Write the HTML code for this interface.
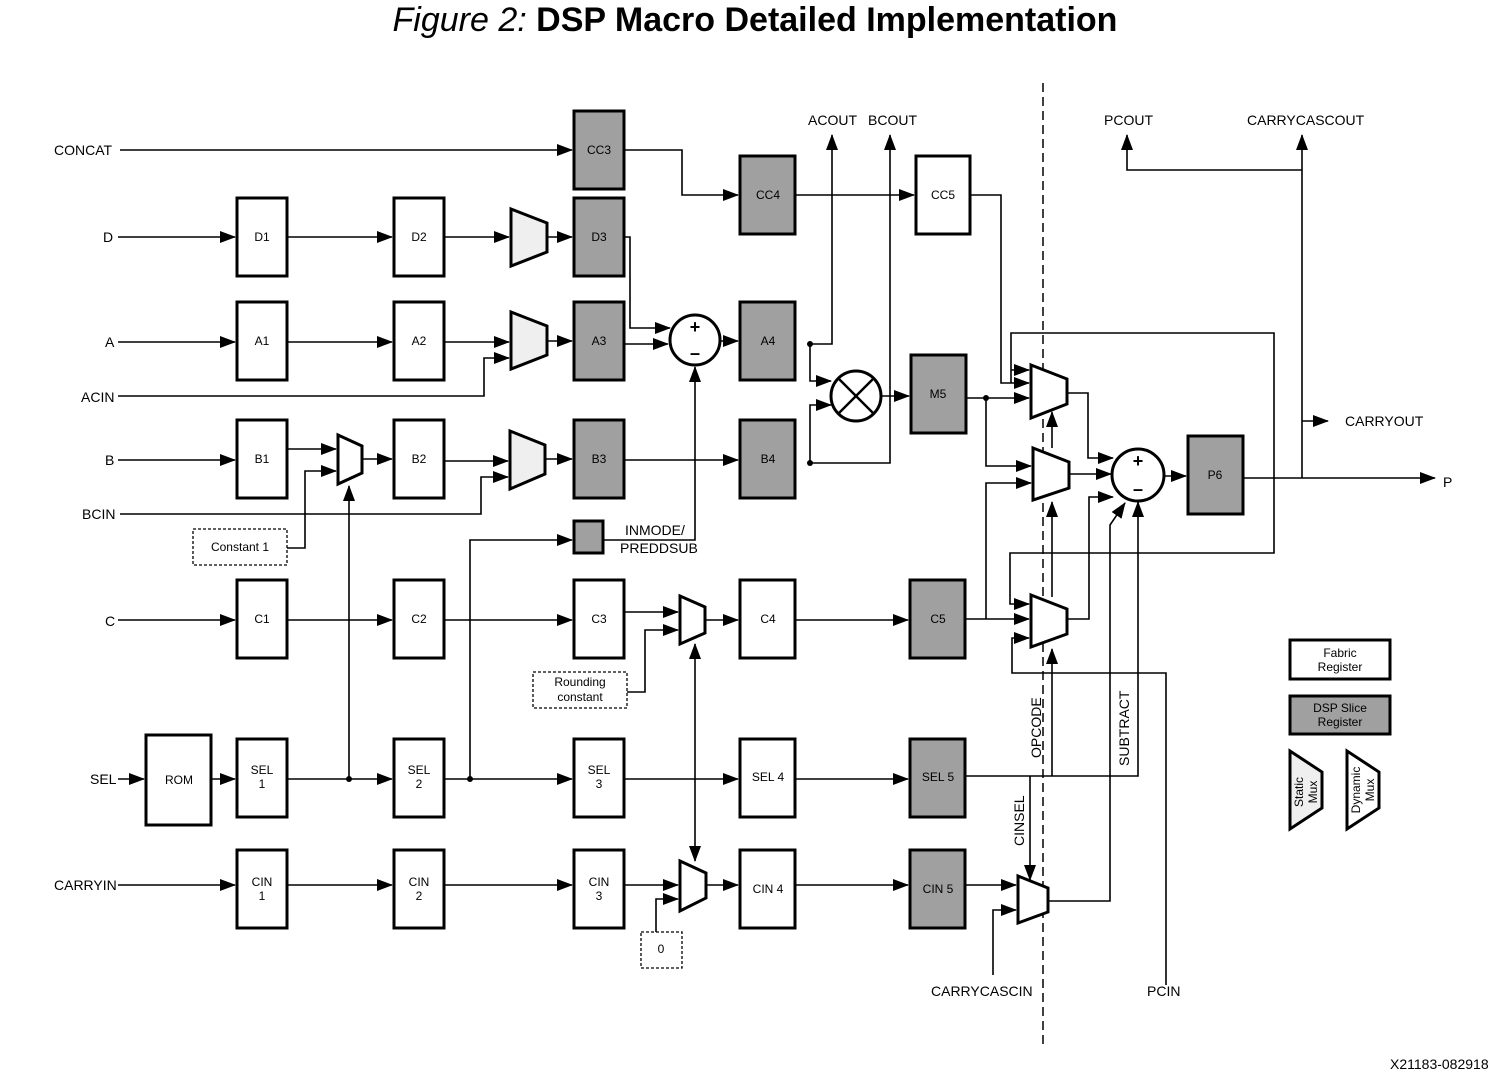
<!DOCTYPE html>
<html><head><meta charset="utf-8"><style>
html,body{margin:0;padding:0;background:#fff;}
svg{display:block;}
text{font-family:"Liberation Sans",sans-serif;fill:#000;}
.r{fill:#fff;stroke:#000;stroke-width:3;}
.g{fill:#a0a0a0;stroke:#000;stroke-width:3;}
.l{fill:none;stroke:#000;stroke-width:1.6;}
.m{fill:#fff;stroke:#000;stroke-width:3;stroke-linejoin:miter;}
.s{fill:#efefef;stroke:#000;stroke-width:3;}
.t{font-size:12px;text-anchor:middle;}
.lab{font-size:14px;}
</style></head><body>
<svg width="1500" height="1076" viewBox="0 0 1500 1076" xmlns="http://www.w3.org/2000/svg">
<defs>
<marker id="a" markerUnits="userSpaceOnUse" markerWidth="16" markerHeight="12" refX="15" refY="6" orient="auto"><path d="M0,0 L16,6 L0,12 Z" fill="#000"/></marker>
</defs>
<text x="755" y="31" text-anchor="middle" style="font-size:34px"><tspan font-style="italic">Figure 2: </tspan><tspan font-weight="bold">DSP Macro Detailed Implementation</tspan></text>

<line x1="1043" y1="83" x2="1043" y2="1045" stroke="#000" stroke-width="1.5" stroke-dasharray="9,5"/>

<g class="l" marker-end="url(#a)">
<polyline points="120,150 572,150"/>
<polyline points="624,150 682,150 682,195 738,195"/>
<polyline points="795,195 914,195"/>
<polyline points="970,195 1001,195 1001,383 1029,383"/>
<polyline points="118,237 235,237"/>
<polyline points="287,237 392,237"/>
<polyline points="444,237 509,237"/>
<polyline points="547,237 572,237"/>
<polyline points="624,237 630,237 630,328 670,328"/>
<polyline points="118,342 235,342"/>
<polyline points="287,342 392,342"/>
<polyline points="444,342 509,342"/>
<polyline points="547,341 572,341"/>
<polyline points="624,344 668,344"/>
<polyline points="720,341 738,341"/>
<polyline points="810,344 832,344 832,135"/>
<polyline points="810,344 810,381 831,381"/>
<polyline points="118,396 484,396 484,358 509,358"/>
<polyline points="118,460 235,460"/>
<polyline points="287,449 336,449"/>
<polyline points="287,548 305,548 305,471 336,471"/>
<polyline points="362,459 392,459"/>
<polyline points="349,779 349,486"/>
<polyline points="444,461 508,461"/>
<polyline points="120,514 481,514 481,477 508,477"/>
<polyline points="545,459 572,459"/>
<polyline points="624,460 738,460"/>
<polyline points="810,463 890,463 890,135"/>
<polyline points="810,463 810,405 831,405"/>
<polyline points="881,396 909,396"/>
<polyline points="966,398 1029,398"/>
<polyline points="986,398 986,466 1031,466"/>
<polyline points="470,779 470,540 572,540"/>
<polyline points="603,540 695,540 695,367"/>
<polyline points="118,620 235,620"/>
<polyline points="287,620 392,620"/>
<polyline points="444,620 572,620"/>
<polyline points="624,612 678,612"/>
<polyline points="627,692 645,692 645,630 678,630"/>
<polyline points="705,620 738,620"/>
<polyline points="795,620 908,620"/>
<polyline points="965,619 1029,619"/>
<polyline points="986,619 986,483 1031,483"/>
<polyline points="1011,383 1011,333 1274,333 1274,553 1010,553 1010,604 1029,604"/>
<polyline points="1011,370 1029,370"/>
<polyline points="1166,985 1166,673 1012,673 1012,638 1029,638"/>
<polyline points="1067,393 1088,393 1088,458 1113,458"/>
<polyline points="1069,474 1111,474"/>
<polyline points="1067,619 1089,619 1089,497 1113,497"/>
<polyline points="1048,901 1110,901 1110,525 1125,503"/>
<polyline points="965,776 1138,776 1138,502"/>
<polyline points="1052,776 1052,649"/>
<polyline points="1052,597 1052,502"/>
<polyline points="1052,448 1052,412"/>
<polyline points="1030,776 1030,880"/>
<polyline points="965,885 1016,885"/>
<polyline points="993,975 993,910 1016,910"/>
<polyline points="1164,476 1186,476"/>
<polyline points="1243,478 1435,478"/>
<polyline points="1302,478 1302,135"/>
<polyline points="1302,170 1127,170 1127,135"/>
<polyline points="1302,421 1328,421"/>
<polyline points="118,779 144,779"/>
<polyline points="211,779 235,779"/>
<polyline points="287,779 392,779"/>
<polyline points="444,779 572,779"/>
<polyline points="624,779 738,779"/>
<polyline points="795,779 908,779"/>
<polyline points="118,885 235,885"/>
<polyline points="287,885 392,885"/>
<polyline points="444,885 572,885"/>
<polyline points="624,885 678,885"/>
<polyline points="656,932 656,899 678,899"/>
<polyline points="705,885 738,885"/>
<polyline points="795,885 908,885"/>
<polyline points="695,700 695,861"/>
<polyline points="695,700 695,644" />
</g>

<g fill="#000">
<circle cx="810" cy="344" r="3"/><circle cx="810" cy="463" r="3"/>
<circle cx="986" cy="398" r="3"/><circle cx="349" cy="779" r="3"/><circle cx="470" cy="779" r="3"/>
</g>

<rect class="g" x="574" y="111" width="50" height="78"/><text class="t" x="599" y="154">CC3</text>
<rect class="g" x="740" y="156" width="55" height="78"/><text class="t" x="768" y="199">CC4</text>
<rect class="r" x="916" y="156" width="54" height="78"/><text class="t" x="943" y="199">CC5</text>
<rect class="r" x="237" y="198" width="50" height="78"/><text class="t" x="262" y="241">D1</text>
<rect class="r" x="394" y="198" width="50" height="78"/><text class="t" x="419" y="241">D2</text>
<rect class="g" x="574" y="198" width="50" height="78"/><text class="t" x="599" y="241">D3</text>
<rect class="r" x="237" y="302" width="50" height="78"/><text class="t" x="262" y="345">A1</text>
<rect class="r" x="394" y="302" width="50" height="78"/><text class="t" x="419" y="345">A2</text>
<rect class="g" x="574" y="302" width="50" height="78"/><text class="t" x="599" y="345">A3</text>
<rect class="g" x="740" y="302" width="55" height="78"/><text class="t" x="768" y="345">A4</text>
<rect class="r" x="237" y="420" width="50" height="78"/><text class="t" x="262" y="463">B1</text>
<rect class="r" x="394" y="420" width="50" height="78"/><text class="t" x="419" y="463">B2</text>
<rect class="g" x="574" y="420" width="50" height="78"/><text class="t" x="599" y="463">B3</text>
<rect class="g" x="740" y="420" width="55" height="78"/><text class="t" x="768" y="463">B4</text>
<rect class="g" x="911" y="355" width="55" height="78"/><text class="t" x="938" y="398">M5</text>
<rect class="g" x="1188" y="436" width="55" height="78"/><text class="t" x="1215" y="479">P6</text>
<rect class="g" x="574" y="521" width="29" height="32"/>
<rect class="r" x="237" y="580" width="50" height="78"/><text class="t" x="262" y="623">C1</text>
<rect class="r" x="394" y="580" width="50" height="78"/><text class="t" x="419" y="623">C2</text>
<rect class="r" x="574" y="580" width="50" height="78"/><text class="t" x="599" y="623">C3</text>
<rect class="r" x="740" y="580" width="55" height="78"/><text class="t" x="768" y="623">C4</text>
<rect class="g" x="910" y="580" width="55" height="78"/><text class="t" x="938" y="623">C5</text>
<rect class="r" x="146" y="735" width="65" height="90"/><text class="t" x="179" y="784">ROM</text>
<rect class="r" x="237" y="739" width="50" height="78"/><text class="t" x="262" y="774">SEL</text><text class="t" x="262" y="788">1</text>
<rect class="r" x="394" y="739" width="50" height="78"/><text class="t" x="419" y="774">SEL</text><text class="t" x="419" y="788">2</text>
<rect class="r" x="574" y="739" width="50" height="78"/><text class="t" x="599" y="774">SEL</text><text class="t" x="599" y="788">3</text>
<rect class="r" x="740" y="739" width="55" height="78"/><text class="t" x="768" y="781">SEL 4</text>
<rect class="g" x="910" y="739" width="55" height="78"/><text class="t" x="938" y="781">SEL 5</text>
<rect class="r" x="237" y="850" width="50" height="78"/><text class="t" x="262" y="886">CIN</text><text class="t" x="262" y="900">1</text>
<rect class="r" x="394" y="850" width="50" height="78"/><text class="t" x="419" y="886">CIN</text><text class="t" x="419" y="900">2</text>
<rect class="r" x="574" y="850" width="50" height="78"/><text class="t" x="599" y="886">CIN</text><text class="t" x="599" y="900">3</text>
<rect class="r" x="740" y="850" width="55" height="78"/><text class="t" x="768" y="893">CIN 4</text>
<rect class="g" x="910" y="850" width="55" height="78"/><text class="t" x="938" y="893">CIN 5</text>

<rect x="193" y="529" width="94" height="36" fill="#fff" stroke="#000" stroke-width="1.3" stroke-dasharray="3,2"/><text class="t" x="240" y="551">Constant 1</text>
<rect x="533" y="672" width="94" height="36" fill="#fff" stroke="#000" stroke-width="1.3" stroke-dasharray="3,2"/><text class="t" x="580" y="686">Rounding</text><text class="t" x="580" y="701">constant</text>
<rect x="641" y="932" width="41" height="36" fill="#fff" stroke="#000" stroke-width="1.3" stroke-dasharray="3,2"/><text class="t" x="661" y="953">0</text>

<polygon class="s" points="511,209 547,223 547,252 511,266"/>
<polygon class="s" points="511,312 547,326 547,355 511,369"/>
<polygon class="s" points="510,431 545,445 545,474 510,489"/>
<polygon class="m" points="338,435 362,446 362,473 338,484"/>
<polygon class="m" points="680,596 705,607 705,633 680,644"/>
<polygon class="m" points="680,861 706,873 706,898 680,911"/>
<polygon class="m" points="1031,365 1067,379 1067,404 1031,418"/>
<polygon class="m" points="1033,448 1069,462 1069,488 1033,500"/>
<polygon class="m" points="1031,595 1067,609 1067,634 1031,647"/>
<polygon class="m" points="1018,876 1048,888 1048,912 1018,923"/>

<circle cx="695" cy="340" r="25" fill="#fff" stroke="#000" stroke-width="3"/>
<text x="695" y="333" text-anchor="middle" style="font-size:18px;font-weight:bold">+</text>
<text x="695" y="359" text-anchor="middle" style="font-size:18px;font-weight:bold">–</text>
<circle cx="856" cy="396" r="25" fill="#fff" stroke="#000" stroke-width="3"/>
<line x1="838" y1="378" x2="874" y2="414" stroke="#000" stroke-width="2.5"/><line x1="874" y1="378" x2="838" y2="414" stroke="#000" stroke-width="2.5"/>
<circle cx="1138" cy="475" r="26" fill="#fff" stroke="#000" stroke-width="3"/>
<text x="1138" y="467" text-anchor="middle" style="font-size:18px;font-weight:bold">+</text>
<text x="1138" y="495" text-anchor="middle" style="font-size:18px;font-weight:bold">–</text>

<g class="lab">
<text x="54" y="155">CONCAT</text>
<text x="103" y="242">D</text>
<text x="105" y="347">A</text>
<text x="81" y="402">ACIN</text>
<text x="105" y="465">B</text>
<text x="82" y="519">BCIN</text>
<text x="105" y="626">C</text>
<text x="90" y="784">SEL</text>
<text x="54" y="890">CARRYIN</text>
<text x="808" y="125">ACOUT</text>
<text x="868" y="125">BCOUT</text>
<text x="1104" y="125">PCOUT</text>
<text x="1247" y="125">CARRYCASCOUT</text>
<text x="1345" y="426">CARRYOUT</text>
<text x="1443" y="487">P</text>
<text x="931" y="996">CARRYCASCIN</text>
<text x="1147" y="996">PCIN</text>
<text x="625" y="535">INMODE/</text>
<text x="620" y="553">PREDDSUB</text>
<text transform="translate(1041,758) rotate(-90)">OPCODE</text>
<text transform="translate(1129,766) rotate(-90)">SUBTRACT</text>
<text transform="translate(1024,846) rotate(-90)">CINSEL</text>
<text x="1390" y="1069" style="font-size:14px">X21183-082918</text>
</g>

<rect class="r" x="1290" y="640" width="100" height="39"/><text class="t" x="1340" y="657">Fabric</text><text class="t" x="1340" y="671">Register</text>
<rect class="g" x="1290" y="696" width="100" height="38"/><text class="t" x="1340" y="712">DSP Slice</text><text class="t" x="1340" y="726">Register</text>
<polygon class="s" points="1290,751 1322,772 1322,808 1290,829"/>
<text class="t" transform="translate(1303,792) rotate(-90)">Static</text><text class="t" transform="translate(1317,792) rotate(-90)">Mux</text>
<polygon class="m" points="1347,751 1379,772 1379,808 1347,829"/>
<text class="t" transform="translate(1360,790) rotate(-90)">Dynamic</text><text class="t" transform="translate(1374,790) rotate(-90)">Mux</text>
</svg>
</body></html>
